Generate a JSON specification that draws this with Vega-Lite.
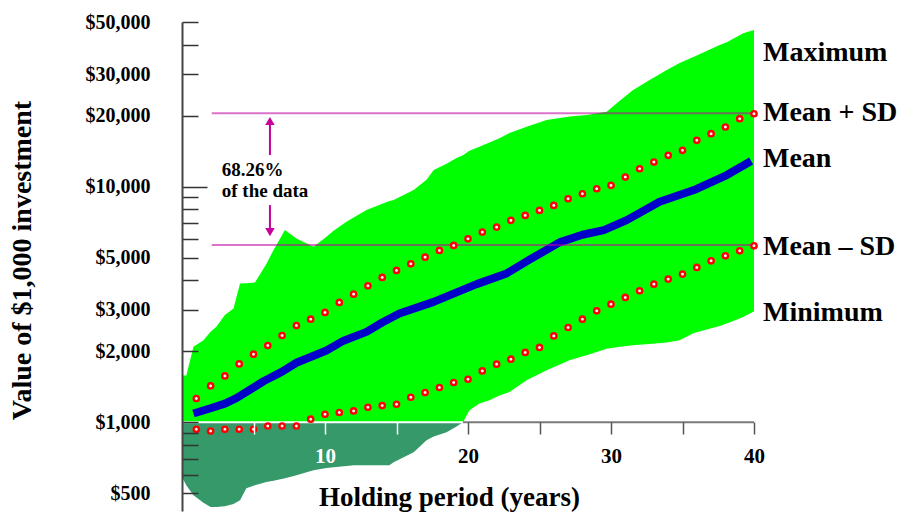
{
  "$schema": "https://vega.github.io/schema/vega-lite/v6.json",
  "autosize": {"type": "none"},
  "width": 572,
  "height": 489,
  "padding": {"left": 182, "top": 22, "right": 150, "bottom": 1},
  "background": "white",
  "config": {"view": {"stroke": null}, "font": "Liberation Serif"},
  "datasets": {
    "band": [
      {"year": 0, "max": 1580, "min": 584, "lo": 1000},
      {"year": 0.3, "max": 1580, "min": 540, "lo": 1000},
      {"year": 0.8, "max": 2090, "min": 490, "lo": 1000},
      {"year": 1.5, "max": 2230, "min": 455, "lo": 1000},
      {"year": 2.0, "max": 2420, "min": 437, "lo": 1000},
      {"year": 2.4, "max": 2540, "min": 437, "lo": 1000},
      {"year": 3.0, "max": 2850, "min": 440, "lo": 1000},
      {"year": 3.6, "max": 3040, "min": 450, "lo": 1000},
      {"year": 4.06, "max": 3880, "min": 466, "lo": 1000},
      {"year": 4.5, "max": 3890, "min": 524, "lo": 1000},
      {"year": 5.1, "max": 3920, "min": 540, "lo": 1000},
      {"year": 5.9, "max": 4700, "min": 558, "lo": 1000},
      {"year": 6.4, "max": 5380, "min": 565, "lo": 1000},
      {"year": 7.2, "max": 6540, "min": 578, "lo": 1000},
      {"year": 8.0, "max": 6030, "min": 595, "lo": 1000},
      {"year": 9.2, "max": 5555, "min": 625, "lo": 1000},
      {"year": 10.1, "max": 6126, "min": 640, "lo": 1000},
      {"year": 10.6, "max": 6500, "min": 644, "lo": 1000},
      {"year": 11.5, "max": 7094, "min": 652, "lo": 1000},
      {"year": 12.0, "max": 7400, "min": 657, "lo": 1000},
      {"year": 12.9, "max": 7954, "min": 657, "lo": 1000},
      {"year": 14.5, "max": 8700, "min": 657, "lo": 1000},
      {"year": 14.8, "max": 8774, "min": 676, "lo": 1000},
      {"year": 16.2, "max": 9674, "min": 746, "lo": 1000},
      {"year": 17.1, "max": 10700, "min": 839, "lo": 1000},
      {"year": 17.6, "max": 11766, "min": 870, "lo": 1000},
      {"year": 18.5, "max": 12500, "min": 907, "lo": 1000},
      {"year": 19.2, "max": 13228, "min": 960, "lo": 1000},
      {"year": 19.65, "max": 13600, "min": 1000, "lo": 1000},
      {"year": 20.1, "max": 14200, "min": 1124, "lo": 1124},
      {"year": 20.8, "max": 14773, "min": 1200, "lo": 1200},
      {"year": 21.5, "max": 15400, "min": 1240, "lo": 1240},
      {"year": 22.2, "max": 16041, "min": 1300, "lo": 1300},
      {"year": 22.9, "max": 16900, "min": 1345, "lo": 1345},
      {"year": 24.1, "max": 17970, "min": 1508, "lo": 1508},
      {"year": 25.5, "max": 19190, "min": 1663, "lo": 1663},
      {"year": 27.1, "max": 19870, "min": 1834, "lo": 1834},
      {"year": 28.3, "max": 20150, "min": 1926, "lo": 1926},
      {"year": 29.7, "max": 20810, "min": 2050, "lo": 2050},
      {"year": 30.4, "max": 22590, "min": 2080, "lo": 2080},
      {"year": 31.5, "max": 25600, "min": 2124, "lo": 2124},
      {"year": 32.7, "max": 28370, "min": 2150, "lo": 2150},
      {"year": 33.9, "max": 31280, "min": 2180, "lo": 2180},
      {"year": 34.8, "max": 33500, "min": 2230, "lo": 2230},
      {"year": 35.8, "max": 35630, "min": 2390, "lo": 2390},
      {"year": 37.6, "max": 39950, "min": 2560, "lo": 2560},
      {"year": 38.1, "max": 41000, "min": 2626, "lo": 2626},
      {"year": 39.25, "max": 44800, "min": 2800, "lo": 2800},
      {"year": 40, "max": 46270, "min": 2962, "lo": 2962}
    ],
    "mean": [
      {"year": 0.8, "mean": 1089},
      {"year": 2.0, "mean": 1147},
      {"year": 3.0, "mean": 1200},
      {"year": 3.8, "mean": 1265},
      {"year": 5.7, "mean": 1493},
      {"year": 7.0, "mean": 1640},
      {"year": 8.0, "mean": 1789},
      {"year": 10.1, "mean": 2017},
      {"year": 11.3, "mean": 2220},
      {"year": 12.9, "mean": 2419},
      {"year": 14.0, "mean": 2650},
      {"year": 15.2, "mean": 2895},
      {"year": 17.6, "mean": 3244},
      {"year": 19.2, "mean": 3560},
      {"year": 20.6, "mean": 3857},
      {"year": 22.7, "mean": 4282},
      {"year": 24.3, "mean": 4900},
      {"year": 26.4, "mean": 5800},
      {"year": 28.0, "mean": 6250},
      {"year": 29.5, "mean": 6540},
      {"year": 31.1, "mean": 7211},
      {"year": 33.4, "mean": 8630},
      {"year": 35.8, "mean": 9674},
      {"year": 38.1, "mean": 11200},
      {"year": 39.8, "mean": 12850}
    ],
    "sd": [
      {"year": 1, "plus": 1261, "minus": 934},
      {"year": 2, "plus": 1427, "minus": 918},
      {"year": 3, "plus": 1573, "minus": 934},
      {"year": 4, "plus": 1769, "minus": 934},
      {"year": 5, "plus": 1945, "minus": 934},
      {"year": 6, "plus": 2117, "minus": 964},
      {"year": 7, "plus": 2335, "minus": 964},
      {"year": 8, "plus": 2575, "minus": 964},
      {"year": 9, "plus": 2739, "minus": 1030},
      {"year": 10, "plus": 2924, "minus": 1081},
      {"year": 11, "plus": 3225, "minus": 1100},
      {"year": 12, "plus": 3498, "minus": 1117},
      {"year": 13, "plus": 3794, "minus": 1158},
      {"year": 14, "plus": 4120, "minus": 1177},
      {"year": 15, "plus": 4410, "minus": 1192},
      {"year": 16, "plus": 4704, "minus": 1277},
      {"year": 17, "plus": 5022, "minus": 1337},
      {"year": 18, "plus": 5362, "minus": 1404},
      {"year": 19, "plus": 5630, "minus": 1475},
      {"year": 20, "plus": 6006, "minus": 1522},
      {"year": 21, "plus": 6413, "minus": 1652},
      {"year": 22, "plus": 6735, "minus": 1764},
      {"year": 23, "plus": 7193, "minus": 1852},
      {"year": 24, "plus": 7553, "minus": 1978},
      {"year": 25, "plus": 7930, "minus": 2077},
      {"year": 26, "plus": 8327, "minus": 2326},
      {"year": 27, "plus": 8884, "minus": 2525},
      {"year": 28, "plus": 9329, "minus": 2739},
      {"year": 29, "plus": 9797, "minus": 2971},
      {"year": 30, "plus": 10128, "minus": 3171},
      {"year": 31, "plus": 10985, "minus": 3386},
      {"year": 32, "plus": 11913, "minus": 3613},
      {"year": 33, "plus": 12720, "minus": 3857},
      {"year": 34, "plus": 13583, "minus": 4051},
      {"year": 35, "plus": 14264, "minus": 4254},
      {"year": 36, "plus": 15730, "minus": 4542},
      {"year": 37, "plus": 16780, "minus": 4845},
      {"year": 38, "plus": 17920, "minus": 5088},
      {"year": 39, "plus": 19430, "minus": 5342},
      {"year": 40, "plus": 20400, "minus": 5610}
    ],
    "baseline": [
      {"from": 0, "to": 19.65, "value": 1000, "tone": "white"},
      {"from": 19.65, "to": 40, "value": 1000, "tone": "#7a7a7a"}
    ],
    "sdlines": [
      {"from": 2.08, "to": 40, "value": 20500},
      {"from": 2.08, "to": 40, "value": 5650}
    ],
    "shafts": [
      {"year": 6.15, "top": 18270, "bottom": 13620},
      {"year": 6.15, "top": 8353, "bottom": 6671}
    ],
    "heads": [
      {"year": 6.15, "value": 19000, "shape": "triangle-up"},
      {"year": 6.15, "value": 6413, "shape": "triangle-down"}
    ],
    "note": [
      {"year": 2.78, "value": 11100, "text": "68.26%"},
      {"year": 2.78, "value": 9000, "text": "of the data"}
    ],
    "labels": [
      {"year": 40, "value": 34170, "text": "Maximum"},
      {"year": 40, "value": 19050, "text": "Mean + SD"},
      {"year": 40, "value": 12080, "text": "Mean"},
      {"year": 40, "value": 5122, "text": "Mean – SD"},
      {"year": 40, "value": 2686, "text": "Minimum"}
    ]
  },
  "layer": [
    {
      "data": {"name": "band"},
      "mark": {"type": "area", "color": "#00ff00"},
      "encoding": {
        "x": {
          "field": "year", "type": "quantitative",
          "scale": {"domain": [0, 40], "nice": false, "zero": false},
          "axis": {
            "values": [5, 10, 15, 20, 25, 30, 35, 40],
            "offset": -89,
            "domain": false,
            "grid": false,
            "zindex": 1,
            "tickSize": 12,
            "tickWidth": 1.5,
            "tickColor": {"condition": {"test": "datum.value <= 15", "value": "white"}, "value": "#555555"},
            "labelExpr": "datum.value % 10 == 0 ? datum.label : ''",
            "labelColor": {"condition": {"test": "datum.value <= 10", "value": "white"}, "value": "black"},
            "labelFont": "Liberation Serif",
            "labelFontWeight": "bold",
            "labelFontSize": 21,
            "labelPadding": 11,
            "labelFlush": false,
            "labelOverlap": false,
            "title": "Holding period (years)",
            "titleFont": "Liberation Serif",
            "titleFontSize": 27,
            "titleFontWeight": "bold",
            "titleColor": "black",
            "titleX": 267,
            "titleY": 83,
            "titleAlign": "center",
            "titleBaseline": "alphabetic"
          }
        },
        "y": {
          "field": "max", "type": "quantitative",
          "scale": {"type": "log", "domain": [420, 50000], "nice": false, "zero": false},
          "axis": {
            "values": [500, 600, 700, 800, 900, 1000, 2000, 3000, 4000, 5000, 6000, 7000, 8000, 9000, 10000, 20000, 30000, 40000, 50000],
            "labelExpr": "indexof([500, 1000, 2000, 3000, 5000, 10000, 20000, 30000, 50000], datum.value) >= 0 ? '$' + format(datum.value, ',') : ''",
            "grid": false,
            "zindex": 1,
            "domainColor": "#444444",
            "domainWidth": 2,
            "tickColor": "#333333",
            "tickWidth": 1.5,
            "tickSize": {"condition": {"test": "datum.value == 10000", "value": -25}, "value": -16},
            "labelPadding": {"condition": {"test": "datum.value == 10000", "value": 57}, "value": 48},
            "labelFont": "Liberation Serif",
            "labelFontWeight": "bold",
            "labelFontSize": 20,
            "labelColor": "black",
            "labelOverlap": false,
            "labelBound": false,
            "labelFlush": false,
            "title": "Value of $1,000 investment",
            "titleFont": "Liberation Serif",
            "titleFontSize": 28,
            "titleFontWeight": "bold",
            "titleColor": "black",
            "titleAngle": -90,
            "titleX": -160,
            "titleY": 238,
            "titleAlign": "center",
            "titleBaseline": "middle"
          }
        },
        "y2": {"field": "lo"}
      }
    },
    {
      "data": {"name": "band"},
      "mark": {"type": "area", "color": "#36996a"},
      "encoding": {
        "x": {"field": "year", "type": "quantitative"},
        "y": {"field": "min", "type": "quantitative"},
        "y2": {"field": "lo"}
      }
    },
    {
      "data": {"name": "baseline"},
      "mark": {"type": "rule", "strokeWidth": 2},
      "encoding": {
        "x": {"field": "from", "type": "quantitative"},
        "x2": {"field": "to"},
        "y": {"field": "value", "type": "quantitative"},
        "color": {"field": "tone", "type": "nominal", "scale": null}
      }
    },
    {
      "data": {"name": "mean"},
      "mark": {"type": "line", "color": "#0000c8", "strokeWidth": 8, "strokeCap": "butt", "strokeJoin": "round"},
      "encoding": {
        "x": {"field": "year", "type": "quantitative"},
        "y": {"field": "mean", "type": "quantitative"}
      }
    },
    {
      "data": {"name": "sdlines"},
      "mark": {"type": "rule", "color": "#c000a0", "opacity": 0.55, "strokeWidth": 2},
      "encoding": {
        "x": {"field": "from", "type": "quantitative"},
        "x2": {"field": "to"},
        "y": {"field": "value", "type": "quantitative"}
      }
    },
    {
      "data": {"name": "sd"},
      "mark": {"type": "point", "shape": "circle", "filled": false, "fill": "white", "fillOpacity": 1, "stroke": "#ff0000", "strokeWidth": 2.4, "size": 28, "opacity": 1},
      "encoding": {
        "x": {"field": "year", "type": "quantitative"},
        "y": {"field": "plus", "type": "quantitative"}
      }
    },
    {
      "data": {"name": "sd"},
      "mark": {"type": "point", "shape": "circle", "filled": false, "fill": "white", "fillOpacity": 1, "stroke": "#ff0000", "strokeWidth": 2.4, "size": 28, "opacity": 1},
      "encoding": {
        "x": {"field": "year", "type": "quantitative"},
        "y": {"field": "minus", "type": "quantitative"}
      }
    },
    {
      "data": {"name": "shafts"},
      "mark": {"type": "rule", "color": "#c8009b", "strokeWidth": 2},
      "encoding": {
        "x": {"field": "year", "type": "quantitative"},
        "y": {"field": "top", "type": "quantitative"},
        "y2": {"field": "bottom"}
      }
    },
    {
      "data": {"name": "heads"},
      "mark": {"type": "point", "filled": true, "color": "#c8009b", "size": 90, "opacity": 1},
      "encoding": {
        "x": {"field": "year", "type": "quantitative"},
        "y": {"field": "value", "type": "quantitative"},
        "shape": {"field": "shape", "type": "nominal", "scale": null}
      }
    },
    {
      "data": {"name": "note"},
      "mark": {"type": "text", "align": "left", "baseline": "alphabetic", "font": "Liberation Serif", "fontWeight": "bold", "fontSize": 19, "color": "black"},
      "encoding": {
        "x": {"field": "year", "type": "quantitative"},
        "y": {"field": "value", "type": "quantitative"},
        "text": {"field": "text"}
      }
    },
    {
      "data": {"name": "labels"},
      "mark": {"type": "text", "align": "left", "baseline": "alphabetic", "dx": 9, "font": "Liberation Serif", "fontWeight": "bold", "fontSize": 28, "color": "black"},
      "encoding": {
        "x": {"field": "year", "type": "quantitative"},
        "y": {"field": "value", "type": "quantitative"},
        "text": {"field": "text"}
      }
    }
  ]
}
